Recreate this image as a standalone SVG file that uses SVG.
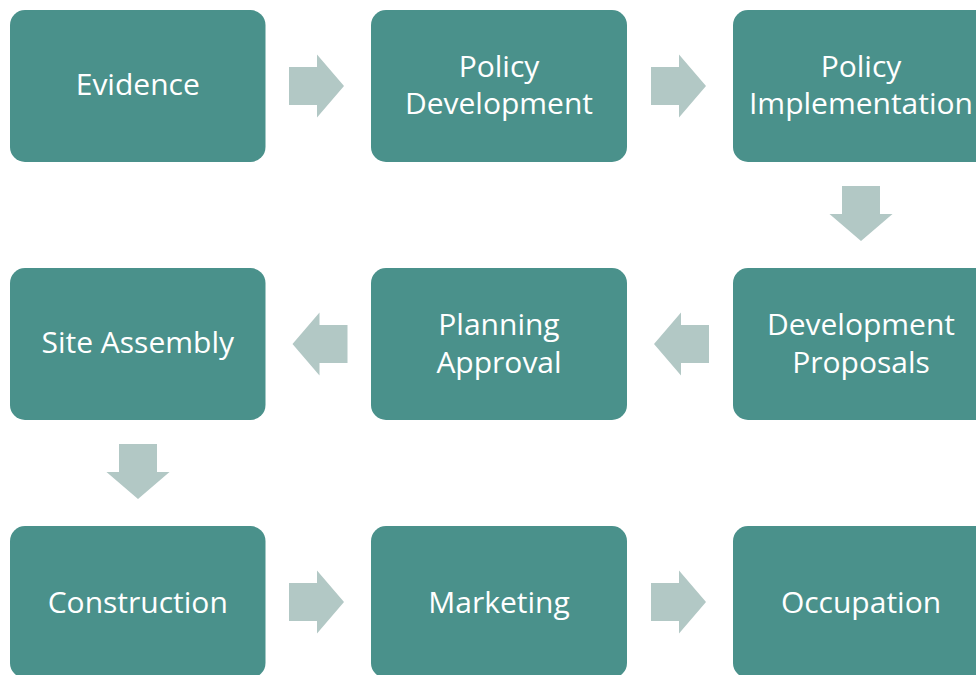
<svg xmlns="http://www.w3.org/2000/svg" xmlns:xlink="http://www.w3.org/1999/xlink" width="976" height="675" viewBox="0 0 976 675">
  <style>
    .box { fill: #4A918B; }
    .lbl { font-family: "Open Sans", "Noto Sans", "DejaVu Sans", sans-serif; font-size: 30px; fill: #FFFFFF; text-anchor: middle; }
    .arr { fill: #B2C8C5; }
  </style>
  <defs>
    <polygon id="arrowR" points="-27.5,-19 0.5,-19 0.5,-31.5 27.5,0 0.5,31.5 0.5,19 -27.5,19"/>
  </defs>
  <rect width="976" height="675" fill="#FFFFFF"/>

  <g id="connectors" class="arr">
    <use xlink:href="#arrowR" href="#arrowR" transform="translate(316.5,86)"/>
    <use xlink:href="#arrowR" href="#arrowR" transform="translate(678.5,86)"/>
    <use xlink:href="#arrowR" href="#arrowR" transform="translate(861,213.5) rotate(90)"/>
    <use xlink:href="#arrowR" href="#arrowR" transform="translate(681.5,344) rotate(180)"/>
    <use xlink:href="#arrowR" href="#arrowR" transform="translate(320,344) rotate(180)"/>
    <use xlink:href="#arrowR" href="#arrowR" transform="translate(138,471.5) rotate(90)"/>
    <use xlink:href="#arrowR" href="#arrowR" transform="translate(316.5,602)"/>
    <use xlink:href="#arrowR" href="#arrowR" transform="translate(678.5,602)"/>
  </g>

  <g id="evidence">
    <rect class="box" x="10" y="10" width="255.5" height="152" rx="15" ry="15"/>
    <text class="lbl" x="137.75" y="95">Evidence</text>
  </g>
  <g id="policy-development">
    <rect class="box" x="371" y="10" width="256" height="152" rx="15" ry="15"/>
    <text class="lbl" x="499" y="77">Policy</text>
    <text class="lbl" x="499" y="114">Development</text>
  </g>
  <g id="policy-implementation">
    <rect class="box" x="733" y="10" width="256" height="152" rx="15" ry="15"/>
    <text class="lbl" x="861" y="77">Policy</text>
    <text class="lbl" x="861" y="114">Implementation</text>
  </g>

  <g id="site-assembly">
    <rect class="box" x="10" y="268" width="255.5" height="152" rx="15" ry="15"/>
    <text class="lbl" x="137.75" y="353">Site Assembly</text>
  </g>
  <g id="planning-approval">
    <rect class="box" x="371" y="268" width="256" height="152" rx="15" ry="15"/>
    <text class="lbl" x="499" y="335">Planning</text>
    <text class="lbl" x="499" y="372.5">Approval</text>
  </g>
  <g id="development-proposals">
    <rect class="box" x="733" y="268" width="256" height="152" rx="15" ry="15"/>
    <text class="lbl" x="861" y="335">Development</text>
    <text class="lbl" x="861" y="372.5">Proposals</text>
  </g>

  <g id="construction">
    <rect class="box" x="10" y="526" width="255.5" height="152" rx="15" ry="15"/>
    <text class="lbl" x="137.75" y="613">Construction</text>
  </g>
  <g id="marketing">
    <rect class="box" x="371" y="526" width="256" height="152" rx="15" ry="15"/>
    <text class="lbl" x="499" y="613">Marketing</text>
  </g>
  <g id="occupation">
    <rect class="box" x="733" y="526" width="256" height="152" rx="15" ry="15"/>
    <text class="lbl" x="861" y="613">Occupation</text>
  </g>
</svg>
